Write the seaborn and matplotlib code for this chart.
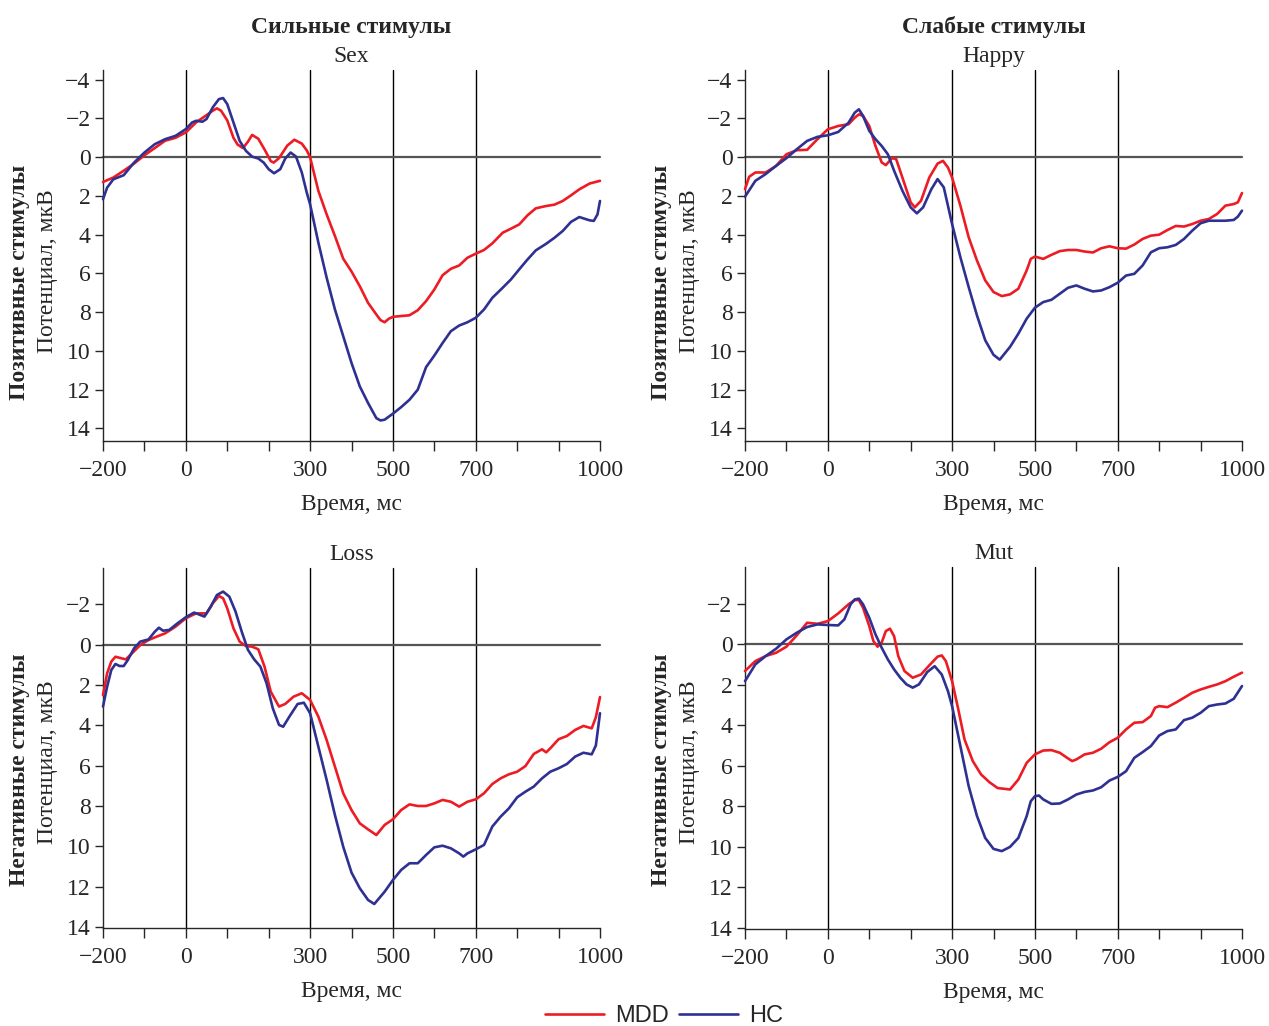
import matplotlib
matplotlib.use("Agg")
import matplotlib.pyplot as plt
import seaborn as sns
import pandas as pd

# --- data (time in ms, potential in uV) ---
sex_mdd_t = [-200, -175, -150, -125, -100, -75, -50, -25, 0, 25, 50, 65, 75, 85, 100, 115, 125, 138, 150, 160,
             175, 190, 205, 212, 225, 245, 262, 280, 292, 300, 320, 340, 360, 380, 400, 420, 440, 460, 470, 480,
             490, 500, 520, 540, 560, 580, 600, 620, 640, 660, 680, 700, 720, 740, 765, 785, 805, 825, 845, 870,
             890, 910, 930, 950, 975, 1000]
sex_mdd_v = [1.28, 1.05, 0.7, 0.33, -0.1, -0.47, -0.85, -1.0, -1.28, -1.8, -2.17, -2.4, -2.52, -2.4, -1.9, -1.0,
             -0.65, -0.47, -0.8, -1.15, -0.95, -0.4, 0.2, 0.28, 0.05, -0.6, -0.9, -0.7, -0.35, 0.0, 1.74, 2.95,
             4.07, 5.24, 5.9, 6.66, 7.52, 8.12, 8.41, 8.52, 8.34, 8.24, 8.2, 8.16, 7.9, 7.43, 6.83, 6.09, 5.76,
             5.59, 5.19, 4.98, 4.79, 4.45, 3.9, 3.69, 3.47, 3.0, 2.64, 2.52, 2.45, 2.26, 1.97, 1.66, 1.36, 1.22]
sex_hc_t = [-200, -190, -175, -150, -125, -100, -75, -50, -25, 0, 15, 25, 40, 50, 65, 80, 90, 100, 115, 130,
            145, 160, 175, 188, 200, 213, 228, 240, 253, 266, 280, 292, 300, 320, 340, 360, 380, 400, 420, 440,
            460, 470, 480, 500, 520, 540, 560, 580, 600, 620, 640, 660, 680, 700, 720, 740, 765, 785, 805, 825,
            845, 870, 890, 910, 930, 950, 975, 985, 994, 1000]
sex_hc_v = [2.17, 1.57, 1.14, 0.93, 0.28, -0.24, -0.67, -0.93, -1.1, -1.45, -1.79, -1.88, -1.83, -1.97, -2.57,
            -3.0, -3.05, -2.74, -1.79, -0.84, -0.33, -0.03, 0.07, 0.28, 0.62, 0.83, 0.62, 0.07, -0.24, -0.03,
            0.79, 1.83, 2.43, 4.41, 6.22, 7.86, 9.24, 10.62, 11.83, 12.69, 13.47, 13.59, 13.55, 13.24, 12.9,
            12.52, 12.0, 10.84, 10.24, 9.59, 8.98, 8.69, 8.52, 8.29, 7.86, 7.26, 6.74, 6.31, 5.79, 5.28, 4.81,
            4.47, 4.16, 3.81, 3.34, 3.09, 3.26, 3.29, 2.95, 2.26]

happy_mdd_t = [-200, -190, -175, -150, -125, -100, -75, -50, -25, 0, 25, 50, 65, 75, 85, 100, 115, 130, 140, 155,
               165, 180, 200, 210, 225, 245, 265, 278, 290, 300, 320, 340, 360, 380, 400, 420, 440, 460, 480, 490,
               500, 520, 540, 560, 580, 600, 620, 640, 660, 680, 700, 720, 740, 760, 780, 800, 820, 840, 860, 880,
               900, 920, 940, 960, 980, 990, 1000]
happy_mdd_v = [1.65, 1.01, 0.79, 0.79, 0.45, -0.15, -0.36, -0.38, -0.93, -1.44, -1.61, -1.7, -2.04, -2.21, -2.13,
               -1.61, -0.58, 0.27, 0.41, 0.05, 0.1, 1.05, 2.33, 2.59, 2.25, 1.05, 0.33, 0.19, 0.53, 1.05, 2.5,
               4.13, 5.33, 6.36, 6.96, 7.17, 7.08, 6.79, 5.85, 5.25, 5.13, 5.25, 5.04, 4.85, 4.79, 4.79, 4.87,
               4.92, 4.7, 4.6, 4.7, 4.72, 4.51, 4.22, 4.05, 4.0, 3.76, 3.55, 3.58, 3.45, 3.28, 3.19, 2.93, 2.5,
               2.42, 2.33, 1.85]
happy_hc_t = [-200, -175, -150, -125, -100, -75, -50, -25, 0, 25, 50, 65, 75, 85, 100, 115, 130, 145, 160, 180,
              200, 215, 230, 250, 265, 280, 300, 320, 340, 360, 380, 400, 415, 440, 460, 480, 500, 520, 540, 560,
              580, 600, 620, 640, 660, 680, 700, 720, 740, 760, 780, 800, 820, 840, 860, 880, 900, 920, 940, 960,
              980, 990, 1000]
happy_hc_v = [2.04, 1.22, 0.87, 0.45, 0.05, -0.41, -0.84, -1.05, -1.13, -1.3, -1.78, -2.3, -2.47, -2.13, -1.36,
              -0.93, -0.58, -0.15, 0.7, 1.73, 2.59, 2.9, 2.59, 1.65, 1.13, 1.56, 3.45, 5.16, 6.7, 8.16, 9.45,
              10.2, 10.45, 9.79, 9.11, 8.34, 7.77, 7.48, 7.36, 7.05, 6.74, 6.62, 6.79, 6.93, 6.88, 6.71, 6.48,
              6.11, 6.02, 5.59, 4.91, 4.7, 4.65, 4.53, 4.22, 3.79, 3.41, 3.28, 3.28, 3.28, 3.24, 3.07, 2.76]

loss_mdd_t = [-200, -190, -180, -170, -155, -145, -130, -110, -90, -70, -50, -25, 0, 25, 50, 65, 80, 90, 100, 115,
              130, 145, 160, 175, 190, 205, 225, 240, 260, 280, 300, 320, 340, 360, 380, 400, 420, 440, 460, 480,
              500, 520, 540, 560, 580, 600, 620, 640, 660, 680, 700, 720, 740, 760, 780, 800, 820, 840, 860, 870,
              880, 900, 920, 940, 960, 980, 990, 1000]
loss_mdd_v = [2.5, 1.42, 0.84, 0.6, 0.68, 0.73, 0.43, 0.02, -0.23, -0.4, -0.56, -0.89, -1.31, -1.55, -1.55,
              -2.05, -2.41, -2.3, -1.8, -0.81, -0.15, 0.07, 0.1, 0.23, 1.09, 2.33, 3.07, 2.94, 2.58, 2.41, 2.74,
              3.57, 4.73, 6.05, 7.37, 8.2, 8.86, 9.16, 9.44, 8.94, 8.66, 8.2, 7.92, 8.0, 8.0, 7.87, 7.7, 7.79,
              8.03, 7.79, 7.67, 7.37, 6.91, 6.63, 6.43, 6.3, 6.02, 5.42, 5.19, 5.34, 5.14, 4.69, 4.53, 4.23, 4.03,
              4.15, 3.6, 2.6]
loss_hc_t = [-200, -190, -180, -170, -160, -150, -140, -125, -110, -90, -75, -65, -55, -40, -20, 0, 20, 35, 45, 60,
             75, 90, 105, 120, 135, 150, 165, 180, 195, 210, 225, 235, 250, 270, 285, 300, 320, 340, 360, 380,
             400, 420, 440, 455, 480, 500, 520, 540, 560, 580, 600, 620, 640, 660, 670, 680, 700, 720, 740, 760,
             780, 800, 820, 840, 860, 880, 900, 920, 940, 960, 980, 990, 1000]
loss_hc_v = [3.07, 2.08, 1.26, 0.96, 1.06, 1.06, 0.76, 0.18, -0.15, -0.26, -0.64, -0.84, -0.69, -0.73, -1.06,
             -1.36, -1.59, -1.47, -1.39, -1.88, -2.46, -2.63, -2.38, -1.64, -0.64, 0.26, 0.73, 1.09, 1.92, 3.16,
             3.98, 4.07, 3.57, 2.94, 2.88, 3.4, 5.06, 6.71, 8.45, 10.02, 11.3, 12.08, 12.66, 12.86, 12.25, 11.67,
             11.17, 10.84, 10.84, 10.43, 10.05, 9.97, 10.1, 10.35, 10.51, 10.35, 10.15, 9.93, 9.02, 8.53, 8.12,
             7.57, 7.29, 7.04, 6.63, 6.3, 6.13, 5.92, 5.55, 5.36, 5.44, 5.0, 3.4]

mut_mdd_t = [-200, -175, -150, -125, -100, -75, -50, -25, 0, 25, 50, 65, 75, 85, 100, 110, 120, 130, 140, 150,
             160, 170, 185, 205, 225, 245, 265, 275, 285, 300, 315, 330, 350, 370, 390, 410, 440, 460, 480, 500,
             520, 540, 560, 580, 590, 600, 620, 640, 660, 680, 700, 720, 740, 760, 780, 790, 800, 820, 840, 860,
             880, 900, 920, 940, 960, 980, 1000]
mut_mdd_v = [1.33, 0.84, 0.59, 0.43, 0.13, -0.43, -1.05, -1.0, -1.13, -1.51, -1.96, -2.17, -2.17, -1.79, -0.89,
             -0.15, 0.13, -0.07, -0.64, -0.76, -0.39, 0.59, 1.33, 1.66, 1.5, 1.05, 0.62, 0.56, 0.84, 1.83, 3.22,
             4.7, 5.77, 6.43, 6.81, 7.1, 7.17, 6.68, 5.86, 5.44, 5.25, 5.23, 5.36, 5.64, 5.77, 5.69, 5.44, 5.36,
             5.16, 4.84, 4.62, 4.21, 3.88, 3.85, 3.55, 3.14, 3.06, 3.11, 2.89, 2.65, 2.4, 2.24, 2.11, 1.99, 1.83,
             1.61, 1.41]
mut_hc_t = [-200, -175, -150, -125, -100, -75, -50, -25, 0, 25, 40, 55, 65, 75, 85, 100, 115, 130, 145, 160,
            175, 190, 205, 220, 240, 258, 275, 290, 300, 320, 340, 360, 380, 400, 420, 440, 460, 480, 490, 500,
            510, 520, 540, 560, 580, 600, 620, 640, 660, 680, 700, 720, 740, 760, 780, 800, 820, 840, 860, 880,
            900, 920, 940, 960, 980, 1000]
mut_hc_v = [1.83, 1.0, 0.59, 0.23, -0.23, -0.56, -0.84, -0.97, -0.94, -0.92, -1.22, -1.96, -2.2, -2.24, -1.96,
            -1.3, -0.48, 0.18, 0.76, 1.25, 1.66, 1.99, 2.15, 1.99, 1.38, 1.09, 1.5, 2.32, 3.06, 5.03, 7.0, 8.47,
            9.56, 10.1, 10.21, 10.0, 9.56, 8.49, 7.75, 7.5, 7.47, 7.66, 7.88, 7.86, 7.66, 7.42, 7.29, 7.22, 7.06,
            6.73, 6.55, 6.27, 5.61, 5.33, 5.03, 4.51, 4.29, 4.21, 3.75, 3.63, 3.39, 3.06, 2.98, 2.93, 2.7, 2.07]

panel_names = ['Sex', 'Happy', 'Loss', 'Mut']
col_titles = ['Сильные стимулы', 'Слабые стимулы']
row_labels = ['Позитивные стимулы', 'Негативные стимулы']
x_major = [-200, 0, 300, 500, 700, 1000]
x_minor = [-100, 100, 200, 400, 600, 800, 900]
x_grid = [0, 300, 500, 700]
colors = {'MDD': '#ed1c24', 'HC': '#2e3192'}


def make_frame(mdd_t, mdd_v, hc_t, hc_v):
    a = pd.DataFrame({'t': mdd_t, 'v': mdd_v, 'group': 'MDD'})
    b = pd.DataFrame({'t': hc_t, 'v': hc_v, 'group': 'HC'})
    return pd.concat([a, b], ignore_index=True)


frames = [make_frame(sex_mdd_t, sex_mdd_v, sex_hc_t, sex_hc_v),
          make_frame(happy_mdd_t, happy_mdd_v, happy_hc_t, happy_hc_v),
          make_frame(loss_mdd_t, loss_mdd_v, loss_hc_t, loss_hc_v),
          make_frame(mut_mdd_t, mut_mdd_v, mut_hc_t, mut_hc_v)]

sns.set_style('ticks')
plt.rcParams['font.family'] = ['Liberation Serif', 'DejaVu Serif']
plt.rcParams['font.size'] = 17
plt.rcParams['axes.linewidth'] = 1.0

W, H = 1269, 1026
fig = plt.figure(figsize=(W / 100, H / 100), dpi=100)

# axes boxes in pixels: left, top, right, bottom
boxes = [(103, 70, 600, 441), (745, 70, 1242, 441), (103, 568, 600, 928), (745, 567, 1242, 929)]
ylims = [(14.65, -4.5), (14.65, -4.5), (14.05, -3.8), (14.05, -3.8)]
yticks = [range(-4, 15, 2), range(-4, 15, 2), range(-2, 15, 2), range(-2, 15, 2)]

axes = []
for i, (l, t, r, b) in enumerate(boxes):
    ax = fig.add_axes([l / W, 1 - b / H, (r - l) / W, (b - t) / H])
    axes.append(ax)
    for xg in x_grid:
        ax.axvline(xg, color='black', lw=1.0, zorder=1)
    ax.axhline(0, color='#555555', lw=1.6, zorder=1)
    sns.lineplot(data=frames[i], x='t', y='v', hue='group', palette=colors,
                 hue_order=['MDD', 'HC'], estimator=None, sort=False,
                 linewidth=1.9, ax=ax, legend=(i == 0), zorder=3)
    ax.set_xlim(-200, 1000)
    ax.set_ylim(*ylims[i])
    ax.set_xticks(x_major)
    ax.set_xticks(x_minor, minor=True)
    ax.set_yticks(list(yticks[i]))
    ax.tick_params(axis='x', which='both', length=7.5, width=1, direction='out', pad=6.5, labelsize=17)
    ax.tick_params(axis='y', length=6, width=1, direction='out', pad=3, labelsize=17)
    ax.set_xlabel('Время, мс', fontsize=17, labelpad=9)
    ax.set_ylabel('')
    ax.set_title(panel_names[i], fontsize=17, pad=6)
    sns.despine(ax=ax)
    for line in ax.get_lines():
        line.set_clip_on(False)

handles, labels = axes[0].get_legend_handles_labels()
axes[0].get_legend().remove()

# column headers
for j, (l, t, r, b) in enumerate(boxes[:2]):
    fig.text((l + r) / 2 / W, 1 - 27 / H, col_titles[j], ha='center', va='center',
             fontsize=17, fontweight='bold')

# row labels (two lines, bold + regular)
for (l, t, r, b), k in zip(boxes, [0, 0, 1, 1]):
    yc_bold = 282 if k == 0 else 770
    yc_reg = 271 if k == 0 else 762
    fig.text((l - 83) / W, 1 - yc_bold / H, row_labels[k], rotation=90, ha='center', va='center',
             fontsize=17, fontweight='bold')
    fig.text((l - 55) / W, 1 - yc_reg / H, 'Потенциал, мкВ', rotation=90, ha='center', va='center',
             fontsize=17)

fig.legend(handles, labels, loc='center', bbox_to_anchor=(664 / W, 1 - 1016 / H), ncol=2,
           frameon=False, prop={'family': 'Liberation Sans', 'size': 17},
           handlelength=2.5, handletextpad=0.45, columnspacing=0.45, borderpad=0)

fig.savefig('out.png', dpi=100)
